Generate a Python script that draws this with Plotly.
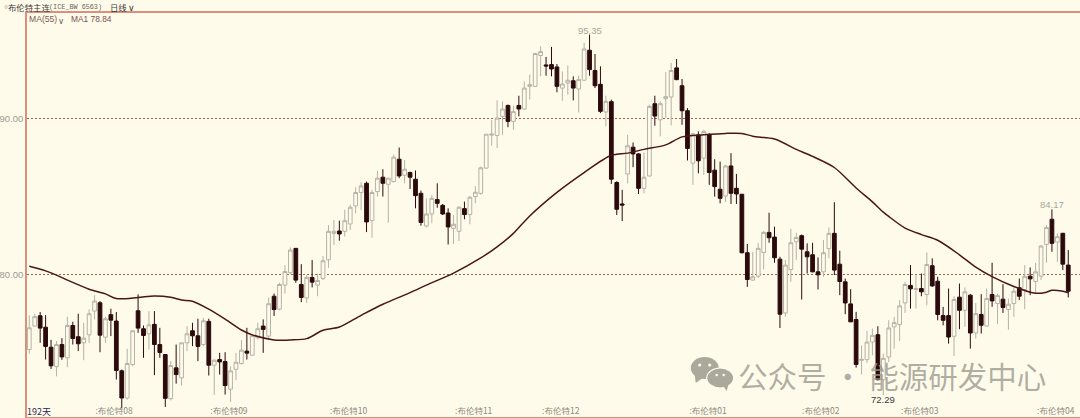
import plotly.graph_objects as go

candle_index = list(range(192))
opens = [
75.21,76.71,77.37,76.64,75.36,74.12,75.53,74.68,76.75,76.03,75.64,76.15,77.67,78.20,76.00,77.44,77.03,73.85,72.11,74.25,
77.69,76.54,76.22,76.82,75.53,74.89,72.07,74.04,73.40,75.64,76.41,76.09,75.53,77.01,74.21,74.57,74.44,72.67,73.95,74.32,
75.11,74.85,75.96,76.71,76.07,78.62,77.79,79.33,80.12,81.68,79.37,78.51,79.82,79.33,79.75,80.95,82.64,82.79,82.77,83.24,
84.39,85.25,85.84,83.45,85.31,86.23,85.78,85.95,87.38,86.36,86.53,86.10,85.20,83.11,83.88,84.80,84.43,83.94,82.96,82.77,
84.22,83.84,84.99,85.20,86.81,88.92,88.90,90.12,90.82,89.80,90.82,90.59,92.04,92.04,94.01,93.41,93.43,93.28,91.93,92.25,
92.40,91.87,92.43,94.35,93.05,92.17,90.40,91.06,85.89,84.52,86.44,88.15,87.72,85.52,86.31,90.93,89.90,91.25,91.36,93.22,
92.08,90.48,87.13,88.94,87.45,88.94,86.68,85.46,85.03,86.95,85.52,85.14,81.40,79.65,79.90,81.42,82.70,82.40,80.99,77.55,
80.33,82.10,82.49,81.46,81.27,80.18,80.18,81.66,82.64,80.67,79.54,78.13,77.13,74.52,74.56,75.69,76.16,73.28,74.73,76.66,
76.81,78.19,79.31,79.05,79.11,78.73,80.57,79.58,77.38,77.38,76.06,78.56,77.72,78.69,76.27,77.45,76.72,78.73,78.15,78.43,
77.77,78.15,79.16,79.05,79.90,79.56,79.90,81.93,83.54,82.08,82.64,80.61]
highs = [
77.41,77.50,77.61,77.41,75.83,75.75,75.94,77.31,76.99,77.50,76.92,77.78,78.68,78.31,77.31,77.82,77.61,73.93,75.26,76.45,
78.74,76.75,77.67,77.67,76.60,74.89,74.47,75.53,75.64,76.71,76.92,77.18,77.24,77.18,74.57,75.00,75.04,74.14,75.00,75.81,
76.60,76.17,76.92,77.14,78.53,78.79,79.48,80.61,81.74,81.68,80.67,79.97,80.93,80.07,81.19,83.17,83.49,83.45,84.14,84.46,
85.59,85.91,85.95,85.42,86.64,86.74,86.17,87.66,88.13,87.34,86.59,86.66,85.37,84.88,85.10,85.84,84.52,84.24,83.81,84.39,
84.67,85.03,85.67,86.91,88.98,89.90,91.14,91.08,90.87,90.80,91.44,92.36,92.79,94.18,94.61,93.92,94.56,93.47,93.00,93.37,
92.68,92.72,94.82,95.35,94.11,93.32,91.44,91.19,85.97,85.42,88.94,88.45,87.77,87.81,90.87,91.44,91.08,92.96,93.54,93.79,
92.51,90.65,89.05,89.16,89.26,89.05,87.38,87.23,87.02,87.77,86.44,85.16,81.96,81.46,82.02,82.79,83.96,83.07,81.14,80.93,
82.92,82.68,82.57,82.00,82.04,81.10,82.21,83.02,84.63,81.53,79.75,79.07,77.62,75.48,76.40,76.55,76.70,74.95,77.08,77.30,
78.37,79.54,80.61,80.01,80.07,81.42,81.04,79.86,77.94,79.11,78.62,79.43,79.18,78.75,78.19,78.75,79.11,80.76,78.79,79.39,
78.47,79.18,79.75,80.61,80.46,80.76,81.89,83.17,84.17,82.64,82.68,81.57]
lows = [
74.94,76.67,75.64,74.57,73.97,73.50,74.55,74.08,75.53,75.11,74.53,75.64,77.14,75.04,75.64,76.07,73.29,71.47,72.01,74.14,
76.28,74.68,75.21,73.57,74.68,71.54,71.96,73.03,72.91,75.11,75.43,74.47,75.43,73.55,72.31,73.61,72.33,71.86,73.25,74.25,
74.57,74.79,75.85,75.00,75.81,77.36,77.72,78.79,80.03,79.48,78.24,78.19,79.18,78.62,79.65,80.44,81.89,82.17,82.43,82.85,
83.92,84.14,82.72,82.36,84.99,84.99,83.32,85.89,86.17,85.84,85.48,84.24,83.13,83.02,83.28,84.28,83.81,81.93,81.96,82.15,
83.54,83.22,84.56,85.10,86.77,88.24,88.09,88.94,89.43,89.26,90.12,90.54,91.19,92.00,92.68,92.72,92.68,91.66,91.12,91.51,
91.14,90.37,92.43,92.72,91.93,90.33,89.48,85.80,83.81,83.43,85.84,86.87,85.16,85.20,86.27,89.52,88.84,90.01,89.54,92.43,
89.58,87.30,85.74,86.48,86.38,85.74,84.99,84.56,84.65,84.52,84.52,81.36,79.22,79.60,79.80,80.33,82.04,80.76,76.59,77.30,
79.54,80.93,78.41,80.07,80.14,79.05,79.86,81.04,79.97,78.69,77.47,76.98,74.05,73.62,74.35,74.84,73.24,72.29,74.41,75.27,
75.76,77.55,77.83,77.83,78.62,78.04,79.22,77.08,76.76,75.59,74.80,76.51,76.66,75.27,75.91,76.23,76.66,77.94,76.83,77.55,
76.48,77.30,78.37,77.79,78.69,78.79,79.65,80.76,81.46,80.82,80.29,78.54]
closes = [
76.60,77.31,76.58,75.41,74.17,75.53,74.74,76.75,75.92,75.58,75.94,77.50,78.31,76.13,77.18,77.09,73.87,72.11,74.32,76.41,
76.58,76.11,76.79,75.53,75.02,72.09,74.19,73.61,75.64,76.22,76.09,75.41,77.05,74.21,74.53,74.42,72.91,73.85,74.40,75.17,
74.98,76.11,76.54,76.50,78.14,77.77,79.37,80.20,81.57,79.65,78.54,79.82,79.52,79.63,80.89,82.77,82.77,82.60,83.45,84.31,
85.25,85.67,83.37,85.25,86.17,85.84,86.17,87.51,86.31,86.74,86.23,85.05,83.34,83.88,84.88,84.56,83.88,83.05,83.22,84.31,
83.84,84.95,85.27,86.83,88.98,88.98,90.01,90.59,89.80,90.42,90.59,91.93,92.15,94.14,94.26,93.34,93.15,92.04,92.19,92.43,
91.93,92.47,94.43,93.11,92.08,90.44,91.08,86.10,84.18,84.45,88.24,87.72,85.52,86.23,90.76,90.14,90.93,91.38,93.05,92.47,
90.48,88.07,89.01,87.28,89.16,86.53,85.63,84.88,86.95,85.20,85.16,81.40,79.69,79.86,81.68,82.70,82.36,81.08,77.47,80.61,
82.04,82.38,81.63,81.14,80.18,79.99,81.40,82.64,80.29,79.56,78.19,76.98,74.26,74.58,75.69,76.12,73.28,74.65,76.59,76.93,
78.00,79.37,79.09,79.11,78.90,80.65,79.28,77.45,77.08,76.01,78.41,77.72,78.90,76.27,77.51,76.76,78.47,78.32,78.66,77.90,
78.11,78.94,78.62,79.90,79.73,80.18,81.83,83.02,82.00,82.43,80.67,78.94]

ma_index = [0,3,5,7,11,14,16,20,23,26,28,30,33,36,39,41,45,47,48,51,54,57,61,65,70,73,78,83,86,89,92,97,102,107,110,113,117,120,124,128,131,133,137,141,144,148,152,155,157,158,161,164,167,171,174,177,181,185,187,188,190,191]
ma_values = [80.53,80.24,79.97,79.65,79.07,78.77,78.47,78.54,78.64,78.56,78.38,78.30,77.79,77.15,76.46,76.15,75.82,75.80,75.82,75.91,76.44,76.65,77.40,78.11,78.85,79.33,80.10,81.07,81.78,82.64,83.75,85.26,86.53,87.63,87.77,88.01,88.30,88.81,88.94,89.03,89.03,88.85,88.67,88.01,87.56,86.85,85.54,84.65,84.00,83.72,82.98,82.56,82.20,81.27,80.48,79.87,79.24,78.81,78.88,79.00,78.94,78.84]

month_tick_index = [15.6, 36.7, 58.7, 81.7, 97.7, 124.8, 145.5, 163.7, 188.7]
month_tick_labels = [":布伦特08", ":布伦特09", ":布伦特10", ":布伦特11", ":布伦特12", ":布伦特01", ":布伦特02", ":布伦特03", ":布伦特04"]
price_ticks = [80, 90]
price_labels = ["80.00", "90.00"]
peak_labels = [(103, 95.35, "95.35", "#a8a69c", "bottom"), (188, 84.17, "84.17", "#a8a69c", "bottom"), (157, 72.29, "72.29", "#3a3a3a", "top")]

W, H = 1080, 418
L, R, T, B = 25, 0, 13, 1
CREAM = "#fffbea"
SPINE = "#dc8f7d"
CJK = "Noto Sans CJK SC"

def px(x):
    return (x - L) / (W - L - R)

def py(y):
    return (H - B - y) / (H - T - B)

fig = go.Figure()
fig.add_trace(go.Candlestick(
    x=candle_index, open=opens, high=highs, low=lows, close=closes,
    whiskerwidth=0,
    increasing=dict(line=dict(color="#b5b2a6", width=1), fillcolor=CREAM),
    decreasing=dict(line=dict(color="#2b0a0c", width=1), fillcolor="#2b0a0c"),
    showlegend=False, hoverinfo="skip",
))
fig.add_trace(go.Scatter(
    x=ma_index, y=ma_values, mode="lines",
    line=dict(color="#4a1518", width=1.5, shape="spline", smoothing=0.8), showlegend=False, hoverinfo="skip",
))

annos = []
for i, v, text, col, side in peak_labels:
    annos.append(dict(x=i, y=v, xref="x", yref="y", text=text, showarrow=False,
                      yanchor=side, yshift=-3 if side == "bottom" else 3,
                      font=dict(family="Liberation Sans", size=9.5, color=col)))

def header(x, y, text, size, color, family=CJK):
    annos.append(dict(x=px(x), y=py(y), xref="paper", yref="paper", text=text, showarrow=False,
                      xanchor="left", yanchor="middle", xshift=0,
                      font=dict(family=family, size=size, color=color)))

header(-2, 6.5, "▫", 8, "#444444")
header(4, 6.5, "布伦特主连", 8.4, "#3a3a3a")
header(45, 6.5, "(ICE_BW 6563)", 6.8, "#666666", "Liberation Mono")
header(106, 6.5, "日线", 8.4, "#3a3a3a")
header(124, 7.5, "∨", 9, "#3a3a3a", "DejaVu Sans")
header(25, 19, "MA(55)", 8.6, "#7a5a5a", "Liberation Sans")
header(54, 20.5, "∨", 8.5, "#7a5a5a", "DejaVu Sans")
header(67, 19, "MA1 78.84", 8.4, "#7a5050", "Liberation Sans")
header(23, 411, "192天", 9, "#2a2a55", CJK)
header(735, 375, "公众号 · 能源研发中心", 29.5, "rgba(150,149,138,0.75)", CJK)

wechat = "#aaa99c"
shapes = []
def ellipse(x0, y0, x1, y1, col, outline=None):
    shapes.append(dict(type="circle", xref="paper", yref="paper", layer="above",
                       x0=px(x0), x1=px(x1), y0=py(y1), y1=py(y0),
                       fillcolor=col, line=dict(width=1.2 if outline else 0, color=outline or col)))
def tail(points):
    path = "M " + " L ".join(f"{px(a):.5f},{py(b):.5f}" for a, b in points) + " Z"
    shapes.append(dict(type="path", xref="paper", yref="paper", layer="above", path=path,
                       fillcolor=wechat, line=dict(width=0)))
ellipse(690, 357, 718, 379, wechat)
tail([(694, 375), (695, 383), (702, 378)])
ellipse(706, 368, 733, 388, wechat, CREAM)
tail([(722, 385), (726, 391), (728, 384)])
for ex, ey, r in [(699, 365, 1.6), (709, 365, 1.6), (716, 375, 1.3), (723, 375, 1.3)]:
    ellipse(ex - r, ey - r, ex + r, ey + r, CREAM)

fig.update_layout(
    width=W, height=H, autosize=False,
    margin=dict(l=L, r=R, t=T, b=B, pad=0),
    paper_bgcolor=CREAM, plot_bgcolor=CREAM,
    boxgap=0.02,
    annotations=annos, shapes=shapes,
    xaxis=dict(range=[-0.42, 193.16], rangeslider=dict(visible=False),
               tickmode="array", tickvals=month_tick_index, ticktext=month_tick_labels,
               ticklabelposition="inside", ticks="", showgrid=False, zeroline=False,
               tickfont=dict(family=CJK, size=8.5, color="#8a8a82"),
               showline=True, linecolor=SPINE, linewidth=1.5, mirror=True),
    yaxis=dict(range=[70.897, 96.73], tickmode="array", tickvals=price_ticks, ticktext=price_labels,
               ticks="", tickfont=dict(family="Liberation Sans", size=9.5, color="#9a9a92"),
               showgrid=True, gridcolor="#a85a55", griddash="2px,2px", gridwidth=1,
               zeroline=False, showline=True, linecolor=SPINE, linewidth=1.5),
)
fig.write_html("out.html", config=dict(displayModeBar=False), post_script="document.body.style.margin='0';")
